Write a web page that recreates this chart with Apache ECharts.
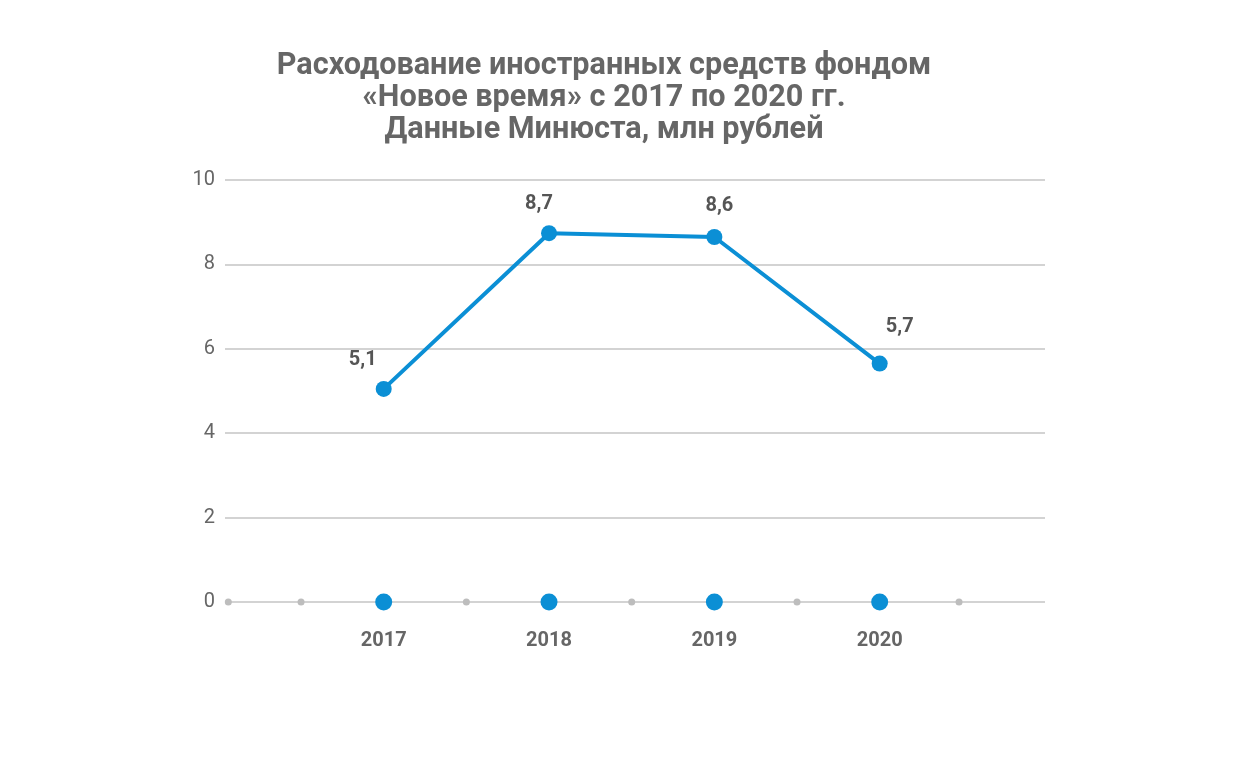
<!DOCTYPE html>
<html>
<head>
<meta charset="utf-8">
<script src="https://cdn.jsdelivr.net/npm/echarts@6/dist/echarts.min.js"></script>
<style>
  html, body { margin: 0; padding: 0; background: #fff; }
  #chart { width: 1241px; height: 782px; }
</style>
</head>
<body>
<div id="chart"></div>
<script>
// годы и значения (млн руб.)
var years = [2017, 2018, 2019, 2020];
var values = [5.05, 8.74, 8.65, 5.65];
var valueLabels = ["5,1", "8,7", "8,6", "5,7"];
// промежуточные точки на оси X
var axisDots = [2016.06, 2016.5, 2017.5, 2018.5, 2019.5, 2020.48];
var yTicks = [0, 2, 4, 6, 8, 10];

var blue = "#0b8fd5";
var labelOffsets = [[-21, -29], [-10, -29], [5, -31], [20, -37]];

var myChart = echarts.init(document.getElementById("chart"));

var option = {
  animation: false,
  title: {
    text: "Расходование иностранных средств фондом\n«Новое время» с 2017 по 2020 гг.\nДанные Минюста, млн рублей",
    left: 599,
    textAlign: "center",
    top: 45,
    textStyle: {
      fontFamily: "Roboto",
      fontWeight: "bold",
      fontSize: 30.6,
      lineHeight: 32,
      color: "#666666",
    },
  },
  grid: {
    left: 225,
    right: 196,
    top: 180,
    bottom: 180,
    containLabel: false,
  },
  xAxis: {
    type: "value",
    min: 2016.04,
    max: 2021,
    axisLine: { show: false },
    axisTick: { show: false },
    axisLabel: { show: false },
    splitLine: { show: false },
  },
  yAxis: {
    type: "value",
    min: yTicks[0],
    max: yTicks[yTicks.length - 1],
    interval: 2,
    axisLine: { show: false },
    axisTick: { show: false },
    axisLabel: {
      margin: 10,
      fontFamily: "Roboto",
      fontSize: 20,
      color: "#666666",
    },
    splitLine: {
      show: true,
      lineStyle: { color: "#c4c4c4", width: 1.5 },
    },
  },
  series: [
    {
      // серые точки на оси
      type: "scatter",
      symbolSize: 7,
      itemStyle: { color: "#bdbdbd", opacity: 1 },
      data: axisDots.map(function (x) { return [x, 0]; }),
      z: 3,
    },
    {
      // синие точки на оси с подписями годов
      type: "scatter",
      symbolSize: 17,
      itemStyle: { color: blue, opacity: 1 },
      label: {
        show: true,
        position: "bottom",
        distance: 20,
        fontFamily: "Roboto",
        fontWeight: "bold",
        fontSize: 20,
        color: "#666666",
        formatter: function (p) { return String(p.value[0]); },
      },
      data: years.map(function (y) { return [y, 0]; }),
      z: 4,
    },
    {
      type: "line",
      symbol: "circle",
      symbolSize: 16,
      lineStyle: { color: blue, width: 4 },
      itemStyle: { color: blue },
      data: years.map(function (y, i) {
        return {
          value: [y, values[i]],
          label: {
            show: true,
            position: "inside",
            offset: labelOffsets[i],
            formatter: valueLabels[i],
            fontFamily: "Roboto",
            fontWeight: "bold",
            fontSize: 20,
            color: "#555555",
          },
        };
      }),
      z: 5,
    },
  ],
};

myChart.setOption(option);
</script>
</body>
</html>
